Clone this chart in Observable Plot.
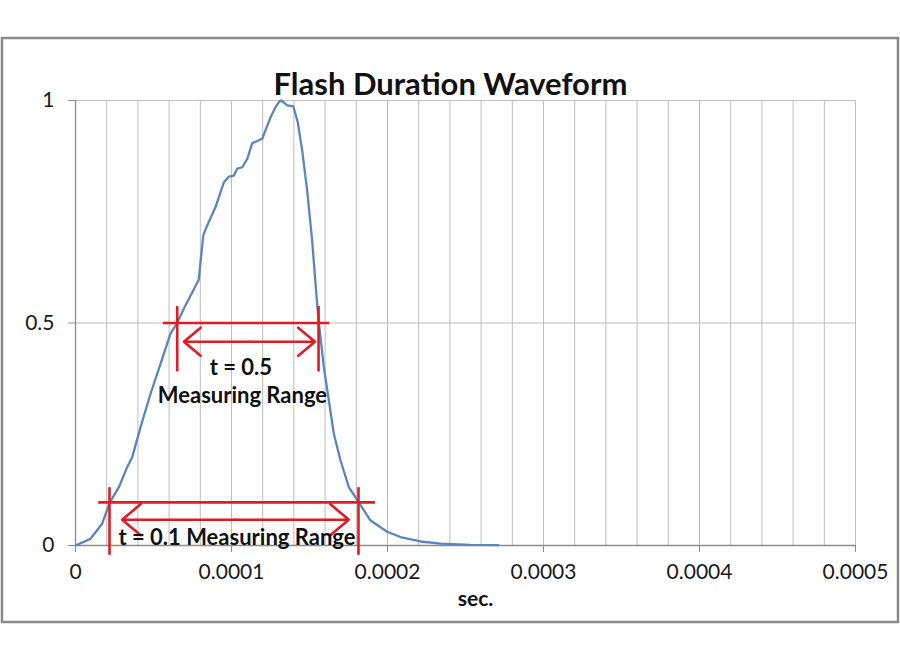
<!DOCTYPE html>
<html>
<head>
<meta charset="utf-8">
<script src="https://cdn.jsdelivr.net/npm/d3@7"></script>
<script src="https://cdn.jsdelivr.net/npm/@observablehq/plot@0.6"></script>
<style>
  html, body { margin: 0; padding: 0; background: #fff; }
  #chart { width: 900px; height: 660px; }
</style>
</head>
<body>
<div id="chart"></div>
<script>
// ---- Data ----
const title = "Flash Duration Waveform";
const xLabel = "sec.";
const timeSec = [0, 9.6e-6, 17.1e-6, 22.0e-6, 27.8e-6, 33.1e-6, 36.3e-6, 41.7e-6, 48.1e-6, 54.5e-6,
  60.9e-6, 65.2e-6, 69.4e-6, 79.0e-6, 81.9e-6, 84.4e-6, 89.7e-6, 95.1e-6, 98.3e-6, 101.5e-6,
  103.7e-6, 106.9e-6, 110.1e-6, 113.3e-6, 119.7e-6, 125.0e-6, 128.2e-6, 130.3e-6, 131.9e-6, 135.7e-6,
  139.6e-6, 142.5e-6, 145.3e-6, 148.5e-6, 151.7e-6, 154.9e-6, 156.0e-6, 159.2e-6, 162.4e-6, 165.6e-6,
  169.9e-6, 175.2e-6, 181.6e-6, 189.1e-6, 199.8e-6, 208.3e-6, 221e-6, 234e-6, 253e-6, 271e-6];
const intensity = [0.0, 0.015, 0.049, 0.097, 0.131, 0.176, 0.198, 0.266, 0.341, 0.408,
  0.476, 0.5, 0.532, 0.597, 0.697, 0.719, 0.760, 0.816, 0.829, 0.831,
  0.847, 0.850, 0.869, 0.904, 0.914, 0.962, 0.985, 0.996, 1.0, 0.989,
  0.987, 0.951, 0.888, 0.798, 0.685, 0.543, 0.5, 0.401, 0.326, 0.251,
  0.191, 0.131, 0.097, 0.056, 0.031, 0.019, 0.009, 0.004, 0.0015, 0.001];

const xTicks = [0, 0.0001, 0.0002, 0.0003, 0.0004, 0.0005];
const xTickLabels = ["0", "0.0001", "0.0002", "0.0003", "0.0004", "0.0005"];
const xGridLines = [0.00002, 0.00004, 0.00006, 0.00008, 0.0001, 0.00012, 0.00014, 0.00016, 0.00018, 0.0002,
  0.00022, 0.00024, 0.00026, 0.00028, 0.0003, 0.00032, 0.00034, 0.00036, 0.00038, 0.0004,
  0.00042, 0.00044, 0.00046, 0.00048, 0.0005];
const yTicks = [0, 0.5, 1];
const yTickLabels = ["0", "0.5", "1"];

// Annotation: t = 0.5 measuring range
const half = {level: 0.5, lineStart: 56.3e-6, lineEnd: 163e-6, cross1: 65.2e-6, cross2: 155.8e-6,
  vTop: 0.537, vBottom: 0.39, arrowY: 0.458, arrowStart: 69.5e-6, arrowEnd: 153.5e-6};
const halfLabels = ["t = 0.5", "Measuring Range"];
const halfLabelX = [106e-6, 107e-6];
const halfLabelY = [0.400, 0.335];

// Annotation: t = 0.1 measuring range
const tenth = {level: 0.097, lineStart: 14.9e-6, lineEnd: 192.3e-6, cross1: 21.8e-6, cross2: 181.4e-6,
  vTop: 0.13, vBottom: -0.022, arrowY: 0.058, arrowStart: 29.9e-6, arrowEnd: 175.2e-6};
const tenthLabel = "t = 0.1 Measuring Range";
const tenthLabelX = 103.5e-6;
const tenthLabelY = 0.016;

// ---- Build ----
const wave = timeSec.map((t, i) => ({t, v: intensity[i]}));
const RED = "#e01b24";
const FONT = "Lato, 'Open Sans', sans-serif";

function rangeMarks(a) {
  const mid = (a.arrowStart + a.arrowEnd) / 2;
  return [
    Plot.ruleY([a.level], {x1: a.lineStart, x2: a.lineEnd, stroke: RED, strokeWidth: 2.6}),
    Plot.ruleX([a.cross1, a.cross2], {y1: a.vBottom, y2: a.vTop, stroke: RED, strokeWidth: 2.6}),
    Plot.arrow([{x1: mid, x2: a.arrowStart}, {x1: mid, x2: a.arrowEnd}], {
      x1: "x1", x2: "x2", y1: () => a.arrowY, y2: () => a.arrowY,
      stroke: RED, strokeWidth: 2.6, headLength: 14, headAngle: 80, bend: 0
    })
  ];
}

const chart = Plot.plot({
  width: 900,
  height: 660,
  marginLeft: 75,
  marginRight: 45,
  marginTop: 100,
  marginBottom: 115,
  style: {fontFamily: FONT, background: "#fff", overflow: "visible"},
  x: {domain: [0, 0.0005]},
  y: {domain: [0, 1]},
  marks: [
    Plot.gridX(xGridLines, {stroke: "#bdbdbd", strokeOpacity: 1, strokeWidth: 1}),
    Plot.gridY([0.5, 1], {stroke: "#bdbdbd", strokeOpacity: 1, strokeWidth: 1}),
    Plot.axisY(yTicks, {tickSize: 7, tickPadding: 14, fontSize: 21, stroke: "#8c8c8c",
      color: "#1a1a1a", tickFormat: (d) => yTickLabels[yTicks.indexOf(d)], label: null}),
    Plot.axisX(xTicks, {tickSize: 7, tickPadding: 12, fontSize: 21, stroke: "#8c8c8c",
      color: "#1a1a1a", tickFormat: (d) => xTickLabels[xTicks.indexOf(d)], label: null}),
    Plot.ruleX([0], {stroke: "#8c8c8c", strokeWidth: 1.3}),
    Plot.ruleY([0], {stroke: "#8c8c8c", strokeWidth: 1.3}),
    Plot.line(wave, {x: "t", y: "v", stroke: "#5a86bb", strokeWidth: 2.3}),
    ...rangeMarks(half),
    ...rangeMarks(tenth),
    Plot.text(halfLabels, {x: (d, i) => halfLabelX[i], y: (d, i) => halfLabelY[i], text: (d) => d,
      fontSize: 22, fontWeight: "bold", fill: "#111"}),
    Plot.text([tenthLabel], {x: tenthLabelX, y: tenthLabelY, text: (d) => d,
      fontSize: 22, fontWeight: "bold", fill: "#111"}),
    Plot.text([title], {frameAnchor: "top", dx: -15, dy: -28, text: (d) => d,
      fontSize: 31, fontWeight: "bold", fill: "#111"}),
    Plot.text([xLabel], {frameAnchor: "bottom", dx: 10, dy: 60, text: (d) => d,
      fontSize: 21, fontWeight: "bold", fill: "#111"})
  ]
});

// outer chart border (decoration)
d3.select(chart).append("rect")
  .attr("x", 2).attr("y", 38).attr("width", 896).attr("height", 584)
  .attr("fill", "none").attr("stroke", "#8a8a8a").attr("stroke-width", 2.5);

document.getElementById("chart").appendChild(chart);
</script>
</body>
</html>
